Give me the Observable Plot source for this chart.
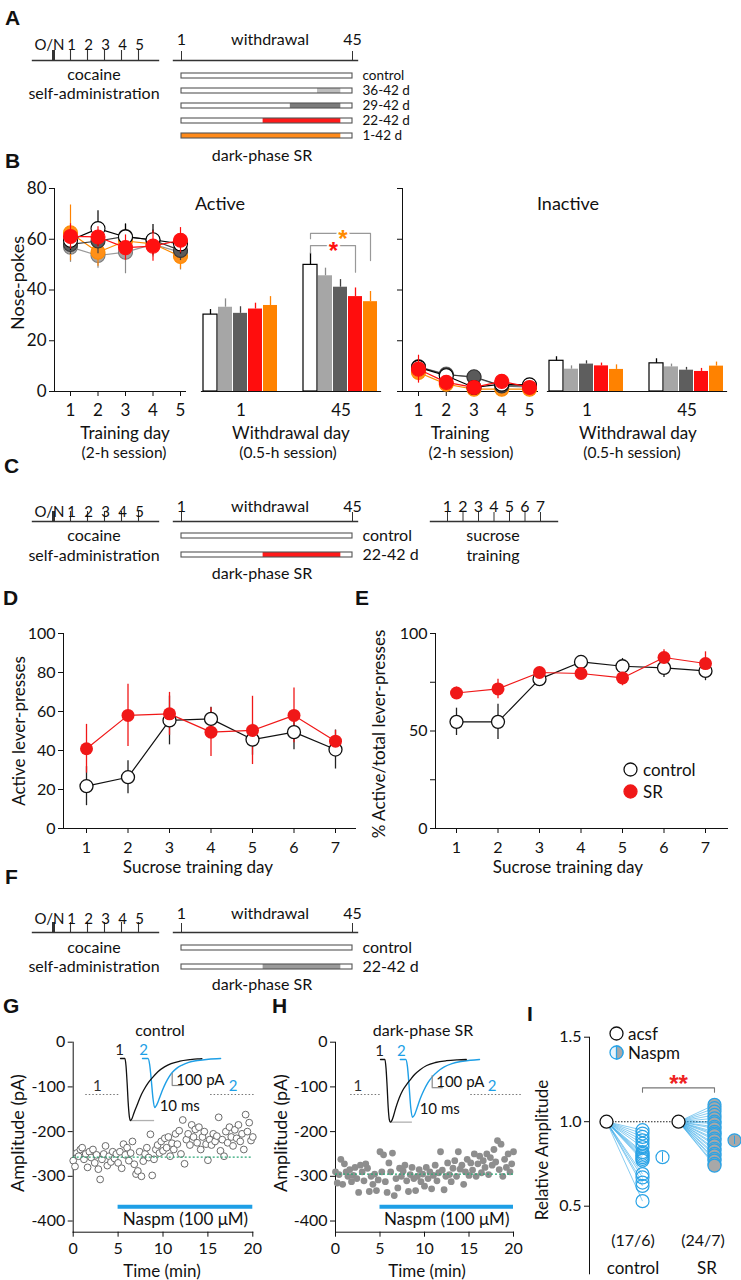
<!DOCTYPE html>
<html><head><meta charset="utf-8">
<script src="https://cdn.jsdelivr.net/npm/d3@7"></script>
<script src="https://cdn.jsdelivr.net/npm/@observablehq/plot@0.6"></script>
<style>
html,body{margin:0;padding:0;background:#fff;}
#root{position:relative;width:741px;height:1280px;overflow:hidden;background:#fff;}
#root svg{overflow:visible;}
</style></head>
<body><div id="root"></div>
<script>
// ---------------- DATA ----------------
// Panel A / C / F timelines
const cocaineTicks = ["O/N","1","2","3","4","5"];
const withdrawalTicks = [1, 45];
const srEndDay = 42;
const groupsA = ["control","36-42 d","29-42 d","22-42 d","1-42 d"];
const srStartA = [null, 36, 29, 22, 1];
const srColorA = ["#ffffff","#bdbdbd","#7b7b7b","#ff1a1a","#ff8a1a"];
const groupsC = ["control","22-42 d"];
const srStartC = [null, 22];
const srColorC = ["#ffffff","#ff1a1a"];
const srColorF = ["#ffffff","#9a9a9a"];
const sucroseTicks = [1,2,3,4,5,6,7];

// Panel B
const bGroups = ["control","36-42 d","29-42 d","22-42 d","1-42 d"];
const trainDays = [1,2,3,4,5];
const wdDays = ["1","45"];
const activeTrainMean = [
  [59.6,64.2,60.9,59.8,58.2],
  [56.9,53.6,54.9,58.0,54.9],
  [58.0,59.3,61.1,59.6,55.6],
  [61.1,60.9,56.7,57.3,59.6],
  [62.5,54.9,59.3,58.2,53.2]];
const activeTrainSem = [
  [4,7,5,6,4],[6,5,8.5,5,7],[4,5,5,4,4],[5,4,5,6,5],[11,5.5,5,4,5]];
const activeWdMean = [[30.3,49.9],[33.2,45.6],[30.8,41.1],[32.5,37.4],[33.9,35.4]];
const activeWdSem = [[2,4.6],[3.3,3],[2.6,3],[2.3,3.4],[3.5,4]];
const inactiveTrainMean = [
  [9.5,6.2,1.6,2.9,2.6],
  [9.7,6.9,5.5,2.2,1.6],
  [9.7,6.6,5.8,2.2,2.2],
  [8.8,3.6,1.6,4.0,1.6],
  [7.5,2.9,0.9,0.9,0.9]];
const inactiveTrainSem = [
  [3,1.5,1,1,1],[3,1.2,1.5,1,1],[3,1.2,2,1,1],[5.5,1.5,1,1.5,1],[3.5,1,0.8,0.8,0.8]];
const inactiveWdMean = [[12.1,11.1],[8.8,9.7],[10.8,8.4],[10.1,7.9],[8.7,10.0]];
const inactiveWdSem = [[1.6,1.8],[1.3,1.1],[1.3,1.1],[1.1,1.2],[1.8,1.6]];
const sigBrackets = [
  {to:"22-42 d", level:57.5, legL:54.6, legR:47.0, color:"#ff1010"},
  {to:"1-42 d", level:62.3, legL:60.2, legR:51.6, color:"#ff8a00"}];

// Panels D / E
const sucroseDays = [1,2,3,4,5,6,7];
const dControlMean = [21.7,26.3,55.4,56.2,45.6,49.4,40.5];
const dControlSem = [10,8.5,12.5,6,8,9,10];
const dSRMean = [40.9,58.0,58.8,49.4,50.3,58.0,44.8];
const dSRSem = [12.5,16,11,12.5,17.5,14,5.5];
const eControlMean = [54.7,54.7,76.6,85.4,83.2,82.4,80.8];
const eControlSem = [7,9,2,3,4,5,5];
const eSRMean = [69.5,71.6,80.0,79.5,77.2,87.7,84.6];
const eSRSem = [3,5,2,2,4,4,6];

// Panels G / H  (time in min, amplitude in pA)
const gPoints = [[0.0,-265],[0.2,-278],[0.4,-248],[0.6,-255],[0.8,-240],[1.0,-236],[1.2,-262],[1.4,-250],[1.6,-280],[1.8,-245],
[2.0,-258],[2.2,-240],[2.4,-270],[2.6,-252],[2.8,-284],[3.0,-307],[3.2,-262],[3.4,-250],[3.6,-232],[3.8,-276],
[4.0,-255],[4.2,-268],[4.4,-245],[4.6,-260],[4.8,-250],[5.0,-270],[5.2,-245],[5.4,-282],[5.6,-228],[5.8,-252],
[6.0,-236],[6.2,-265],[6.4,-248],[6.6,-222],[6.8,-273],[7.0,-295],[7.2,-288],[7.4,-245],[7.6,-300],[7.8,-266],
[8.0,-250],[8.2,-236],[8.4,-258],[8.6,-206],[8.8,-298],[9.0,-262],[9.2,-240],[9.4,-230],[9.6,-248],[9.8,-222],
[10.0,-243],[10.2,-215],[10.4,-236],[10.6,-212],[10.8,-255],[11.0,-226],[11.2,-240],[11.4,-205],[11.6,-228],[11.8,-198],
[12.0,-250],[12.2,-174],[12.4,-272],[12.6,-218],[12.8,-205],[13.0,-230],[13.2,-185],[13.4,-212],[13.6,-195],[13.8,-225],
[14.0,-190],[14.2,-240],[14.4,-212],[14.6,-200],[14.8,-228],[15.0,-264],[15.2,-218],[15.4,-230],[15.6,-205],[15.8,-222],
[16.0,-210],[16.2,-168],[16.4,-243],[16.6,-218],[16.8,-255],[17.0,-200],[17.2,-225],[17.4,-190],[17.6,-212],[17.8,-232],
[18.0,-196],[18.2,-215],[18.4,-185],[18.6,-222],[18.8,-205],[19.0,-240],[19.2,-162],[19.4,-200],[19.6,-180],[19.8,-220],[20.0,-212]];
const hPoints = [[0.0,-290],[0.2,-315],[0.4,-296],[0.6,-262],[0.8,-318],[1.0,-272],[1.2,-290],[1.4,-300],[1.6,-285],[1.8,-312],
[2.0,-298],[2.2,-280],[2.4,-305],[2.6,-336],[2.8,-275],[3.0,-290],[3.2,-310],[3.4,-272],[3.6,-282],[3.8,-334],
[4.0,-300],[4.2,-318],[4.4,-295],[4.6,-332],[4.8,-308],[5.0,-245],[5.2,-290],[5.4,-252],[5.6,-312],[5.8,-336],
[6.0,-270],[6.2,-290],[6.4,-248],[6.6,-343],[6.8,-305],[7.0,-326],[7.2,-282],[7.4,-300],[7.6,-288],[7.8,-275],
[8.0,-310],[8.2,-334],[8.4,-296],[8.6,-280],[8.8,-305],[9.0,-332],[9.2,-300],[9.4,-285],[9.6,-312],[9.8,-295],
[10.0,-322],[10.2,-280],[10.4,-305],[10.6,-290],[10.8,-328],[11.0,-298],[11.2,-275],[11.4,-310],[11.6,-292],[11.8,-245],
[12.0,-286],[12.2,-330],[12.4,-300],[12.6,-270],[12.8,-296],[13.0,-312],[13.2,-282],[13.4,-265],[13.6,-300],[13.8,-245],
[14.0,-284],[14.2,-275],[14.4,-318],[14.6,-290],[14.8,-262],[15.0,-298],[15.2,-270],[15.4,-286],[15.6,-250],[15.8,-300],
[16.0,-272],[16.2,-255],[16.4,-292],[16.6,-265],[16.8,-280],[17.0,-250],[17.2,-296],[17.4,-258],[17.6,-275],[17.8,-240],
[18.0,-268],[18.2,-220],[18.4,-285],[18.6,-228],[18.8,-300],[19.0,-262],[19.2,-280],[19.4,-250],[19.6,-290],[19.8,-272],[20.0,-245]];
const gBaseline = -257;
const hBaseline = -295;
const naspmBar = [{start:5, end:20, level:-368}];
const gSamples = [{label:"1", t1:1.4, t2:5.2, tl:2.7, level:-117, color:"#333"},{label:"2", t1:15.3, t2:20.3, tl:17.8, level:-117, color:"#1e9fe6"}];
const hSamples = [{label:"1", t1:1.7, t2:5.1, tl:2.5, level:-117, color:"#333"},{label:"2", t1:15.2, t2:20.9, tl:17.6, level:-117, color:"#1e9fe6"}];
// Insets: EPSC traces (ms, pA)
const gTrace1 = [[0,0],[4,0],[5,-60],[6,-200],[7,-370],[8,-480],[9,-517],[10.5,-500],[12,-460],[15,-390],[18,-320],[21,-265],[25,-205],[29,-160],[34,-110],[40,-70],[46,-42],[54,-22],[63,-10],[70,-3],[74,-1]];
const gTrace2 = [[20,0],[25,0],[26.5,-50],[28,-180],[29.5,-330],[31,-408],[33,-385],[35,-340],[38,-267],[41,-205],[44,-155],[47,-117],[51,-82],[56,-55],[62,-32],[70,-17],[80,-6],[91,0]];
const hTrace1 = [[0,0],[4,0],[5,-70],[6,-220],[7,-400],[8,-500],[9,-522],[10.5,-505],[12,-465],[14,-400],[17,-320],[20,-260],[24,-205],[27,-170],[31,-125],[36,-85],[42,-50],[50,-25],[60,-10],[70,-3],[78,0]];
const hTrace2 = [[18,0],[23,0],[24.5,-60],[26,-220],[27.5,-400],[29,-481],[31,-460],[33,-410],[36,-330],[39,-265],[43,-195],[47,-145],[52,-100],[58,-62],[65,-35],[73,-17],[82,-6],[90,0]];
const gPeak = [{t1:9, t2:31, amp:-517}];
const hPeak = [{t1:9, t2:29, amp:-522}];
const gScaleBar = [{t:47, pA:-225, dt:10, dI:100}];
const hScaleBar = [{t:47, pA:-235, dt:10, dI:100}];

// Panel I
const iSlots = ["control acsf","control Naspm","SR acsf","SR Naspm"];
const acsfLevel = 1.0;
const naspmControl = [0.95,0.93,0.91,0.89,0.87,0.85,0.82,0.81,0.80,0.79,0.78,0.77,0.69,0.67,0.64,0.62,0.53];
const naspmSR = [1.10,1.08,1.06,1.04,1.02,1.00,0.99,0.97,0.96,0.94,0.93,0.92,0.90,0.89,0.87,0.86,0.84,0.83,0.81,0.80,0.78,0.77,0.75,0.74];
const iMeans = [{slot:"control Naspm", mean:0.79, sem:0.03, fill:"#ffffff"},{slot:"SR Naspm", mean:0.89, sem:0.025, fill:"#a8a8a8"}];
const iBracket = {level:1.2, leg:1.175};

// ---------------- HELPERS ----------------
const FONT = "Lato, 'Open Sans', sans-serif";
const INK = "#111";
const BLUE = "#2aa3e6";
const root = document.getElementById("root");
const baseStyle = {fontFamily: FONT, fontSize: "16px", color: INK, background: "transparent", overflow: "visible"};

function place(node, left, top) {
  node.style.position = "absolute";
  node.style.left = left + "px";
  node.style.top = top + "px";
  root.appendChild(node);
  return node;
}
function txt(s, x, y, o = {}) {
  const d = document.createElement("div");
  d.textContent = s;
  d.style.cssText = `position:absolute;left:${x}px;top:${y}px;white-space:nowrap;line-height:1;font-family:${o.family||FONT};font-size:${o.size||16}px;font-weight:${o.weight||"normal"};color:${o.color||INK};`;
  const ax = o.anchor === "start" ? "0" : o.anchor === "end" ? "-100%" : "-50%";
  d.style.transform = `translate(${ax},-50%)` + (o.rotate ? ` rotate(${o.rotate}deg)` : "");
  root.appendChild(d);
}
function letter(s, x, y) { txt(s, x, y, {anchor:"start", size:21, weight:"bold", family:"'Liberation Sans', Arial, sans-serif", color:"#111"}); }
function icon(x, y, r, fill, stroke, halfFill) {
  const ns = "http://www.w3.org/2000/svg";
  const s = document.createElementNS(ns, "svg");
  const w = 2 * r + 4;
  s.setAttribute("width", w); s.setAttribute("height", w);
  const c = document.createElementNS(ns, "circle");
  c.setAttribute("cx", w/2); c.setAttribute("cy", w/2); c.setAttribute("r", r);
  c.setAttribute("fill", fill); c.setAttribute("stroke", stroke); c.setAttribute("stroke-width", 1.3);
  s.appendChild(c);
  if (halfFill) {
    const p = document.createElementNS(ns, "path");
    p.setAttribute("d", `M${w/2},${w/2 - r} A${r},${r} 0 0 1 ${w/2},${w/2 + r} Z`);
    p.setAttribute("fill", halfFill); p.setAttribute("stroke", stroke); p.setAttribute("stroke-width", 1.3);
    s.appendChild(p);
  }
  place(s, x - w/2, y - w/2);
}
function safe(name, fn) {
  try { fn(); } catch (e) { console.error(name, e); txt(name + ": " + e.message, 5, 1270, {anchor:"start", size:10, color:"red"}); }
}

// ---------------- TIMELINES (A, C, F) ----------------
function cocainePlot(lineY, labelOffset) {
  const p = Plot.plot({
    width: 170, height: 40, marginLeft: 32, marginRight: 12, marginTop: 30, marginBottom: 0,
    style: baseStyle,
    x: {type: "point", domain: cocaineTicks, padding: 0, insetLeft: 20, insetRight: 20, axis: null},
    marks: [
      Plot.tickX(cocaineTicks, {x: d => d, stroke: "#333", strokeWidth: d => d === "O/N" ? 3 : 1.1}),
      Plot.text(cocaineTicks.slice(0, 1), {x: d => d, frameAnchor: "top", dy: -(labelOffset - 10), dx: -4, fontSize: 15, fill: INK}),
      Plot.text(cocaineTicks.slice(1), {x: d => d, frameAnchor: "top", dy: -(labelOffset - 10), dx: 1, fontSize: 15, fill: INK}),
      Plot.frame({anchor: "bottom", stroke: "#333", strokeWidth: 1.4})
    ]
  });
  place(p, 0, lineY - 40);
}
function withdrawalPlot(lineY, labelOffset, groups, srStart, srColor, firstOffset, step, rowFont) {
  const rows = groups.map((g, i) => ({name: g, start: withdrawalTicks[0], end: withdrawalTicks[1], srStart: srStart[i], srEnd: srEndDay, color: srColor[i]}));
  const n = groups.length, top = 40;
  const y0 = top + firstOffset - step / 2;
  const h = Math.round(y0 + n * step + 4);
  const pad = 1 - 5 / step;
  const p = Plot.plot({
    width: 290, height: h, marginLeft: 23, marginRight: 83, marginTop: top, marginBottom: 0,
    style: baseStyle,
    x: {domain: withdrawalTicks, insetLeft: 8, insetRight: 5},
    y: {type: "band", domain: groups, range: [y0, y0 + n * step], paddingInner: pad, paddingOuter: pad / 2, axis: null},
    color: {type: "identity"},
    marks: [
      Plot.axisX({anchor: "top", ticks: withdrawalTicks, tickFormat: d => String(d), tickSize: 10, tickPadding: Math.max(0, labelOffset - 15.8), label: null, fontSize: 16, stroke: "#333"}),
      Plot.frame({anchor: "top", stroke: "#333", strokeWidth: 1.4}),
      Plot.barX(rows, {x1: "start", x2: "end", y: "name", fill: "white"}),
      Plot.barX(rows.filter(r => r.srStart != null), {x1: "srStart", x2: "srEnd", y: "name", fill: "color"}),
      Plot.barX(rows, {x1: "start", x2: "end", y: "name", fill: "none", stroke: "#555", strokeWidth: 1.1}),
      Plot.text(rows, {y: "name", text: "name", frameAnchor: "right", textAnchor: "start", dx: 5, fontSize: rowFont, fill: INK})
    ]
  });
  place(p, 150, lineY - top);
}
function sucroseTimeline(lineY, labelOffset) {
  const p = Plot.plot({
    width: 160, height: 45, marginLeft: 15, marginRight: 18, marginTop: 40, marginBottom: 5,
    style: baseStyle,
    x: {domain: [1, 7], insetLeft: 17, insetRight: 17},
    marks: [
      Plot.axisX({anchor: "top", ticks: sucroseTicks, tickFormat: d => String(d), tickSize: 10, tickPadding: Math.max(0, labelOffset - 15.8), label: null, fontSize: 16, stroke: "#333"}),
      Plot.frame({anchor: "top", stroke: "#333", strokeWidth: 1.4})
    ]
  });
  place(p, 415, lineY - 40);
}

safe("A", () => {
  letter("A", 5, 17);
  cocainePlot(60, 21);
  withdrawalPlot(60, 21, groupsA, srStartA, srColorA, 13.5, 15.75, 13.5);
  txt("cocaine", 94, 74, {size:16}); txt("self-administration", 94, 93, {size:16});
  txt("withdrawal", 270, 39, {size:16});
  txt("dark-phase SR", 262, 155, {size:16});
});
safe("C", () => {
  letter("C", 4, 465);
  cocainePlot(521, 15.5);
  withdrawalPlot(521, 15.5, groupsC, srStartC, srColorC, 14, 19, 16);
  sucroseTimeline(521, 15.5);
  txt("cocaine", 94, 535, {size:16}); txt("self-administration", 94, 555, {size:16});
  txt("withdrawal", 270, 505.5, {size:16});
  txt("dark-phase SR", 262, 573, {size:16});
  txt("sucrose", 493, 535, {size:16}); txt("training", 493, 555, {size:16});
});
safe("F", () => {
  letter("F", 5, 876);
  cocainePlot(931.5, 19);
  withdrawalPlot(931.5, 19, groupsC, srStartC, srColorF, 15, 19, 16);
  txt("cocaine", 94, 946.5, {size:16}); txt("self-administration", 94, 966, {size:16});
  txt("withdrawal", 270, 912.5, {size:16});
  txt("dark-phase SR", 262, 984, {size:16});
});

// ---------------- PANEL B ----------------
const bLine = ["#000000","#9a9a9a","#3c3c3c","#ff1010","#ff8a00"];
const bDotFill = ["#ffffff","#a6a6a6","#5a5a5a","#ff1010","#ff9019"];
const bDotStroke = ["#000000","#7a7a7a","#333333","#ff1010","#ff8a00"];
const bBarFill = ["#ffffff","#a6a6a6","#5e5e5e","#ff0d0d","#ff8200"];
const bErr = ["#000000","#8a8a8a","#404040","#ff0d0d","#ff8200"];
const drawOrder = [1, 4, 2, 0, 3];

function trainingPlot(means, sems, left, width, marginLeft, marginRight, insetLeft, insetRight, showLabels) {
  const marks = [];
  for (const gi of drawOrder) {
    const data = trainDays.map((d, di) => ({day: d, mean: means[gi][di], sem: sems[gi][di]}));
    marks.push(Plot.ruleX(data, {x: "day", y1: d => d.mean - d.sem, y2: d => d.mean + d.sem, stroke: bErr[gi], strokeWidth: 1.2}));
    marks.push(Plot.line(data, {x: "day", y: "mean", stroke: bLine[gi], strokeWidth: 1.2}));
    marks.push(Plot.dot(data, {x: "day", y: "mean", r: 7, fill: bDotFill[gi], stroke: bDotStroke[gi], strokeWidth: 1.1}));
  }
  const p = Plot.plot({
    width, height: 260, marginLeft, marginRight, marginTop: 18, marginBottom: 39,
    style: {...baseStyle, fontSize: "17px"},
    x: {domain: [1, 5], insetLeft, insetRight, ticks: trainDays, tickFormat: d => String(d), tickSize: 5, tickPadding: 7, label: null, line: true},
    y: {domain: [0, 80], ticks: [0, 20, 40, 60, 80], tickFormat: showLabels ? (d => String(d)) : (() => ""), tickSize: 5, tickPadding: 3, label: null, line: true},
    marks
  });
  place(p, left, 170);
}
function withdrawalBars(means, sems, left, width, marginLeft, marginRight, withSig) {
  const data = [];
  wdDays.forEach((day, di) => bGroups.forEach((g, gi) => data.push({day, group: g, gi, mean: means[gi][di], sem: sems[gi][di]})));
  const marks = [
    Plot.barY(data, {fx: "day", x: "group", y: "mean", fill: d => bBarFill[d.gi]}),
    Plot.barY(data.filter(d => d.gi === 0), {fx: "day", x: "group", y: "mean", fill: "none", stroke: "#000", strokeWidth: 1.2}),
    Plot.ruleX(data, {fx: "day", x: "group", y1: "mean", y2: d => d.mean + d.sem, stroke: d => bErr[d.gi], strokeWidth: 1.3}),
    Plot.frame({anchor: "bottom", facet: "super", stroke: INK, strokeWidth: 1.2})
  ];
  if (withSig) {
    const pts = [];
    for (const b of sigBrackets) {
      pts.push({day: "45", id: b.to, g: "control", v: b.legL}, {day: "45", id: b.to, g: "control", v: b.level},
               {day: "45", id: b.to, g: b.to, v: b.level}, {day: "45", id: b.to, g: b.to, v: b.legR});
    }
    marks.push(Plot.line(pts, {fx: "day", x: "g", y: "v", z: "id", stroke: "#999", strokeWidth: 1.2}));
    marks.push(Plot.text([sigBrackets[0]], {fx: () => "45", x: () => "36-42 d", y: "level", text: () => "*", dx: 8, dy: 6, fill: "color", stroke: "white", strokeWidth: 4, fontSize: 24, fontWeight: "bold", fontFamily: "'Liberation Sans', Arial"}));
    marks.push(Plot.text([sigBrackets[1]], {fx: () => "45", x: () => "29-42 d", y: "level", text: () => "*", dx: 2.5, dy: 6, fill: "color", stroke: "white", strokeWidth: 4, fontSize: 24, fontWeight: "bold", fontFamily: "'Liberation Sans', Arial"}));
  }
  const p = Plot.plot({
    width, height: 260, marginLeft, marginRight, marginTop: 18, marginBottom: 39,
    style: {...baseStyle, fontSize: "17px"},
    fx: {domain: wdDays, paddingInner: 0.21, paddingOuter: 0, axis: "bottom", tickSize: 0, tickPadding: 12, label: null},
    x: {domain: bGroups, paddingInner: 0.06, paddingOuter: 0, axis: null},
    y: {domain: [0, 80], axis: null},
    color: {type: "identity"},
    marks
  });
  place(p, left, 170);
}

safe("B", () => {
  letter("B", 5, 160);
  trainingPlot(activeTrainMean, activeTrainSem, 0, 195, 54, 10, 16, 5, true);
  withdrawalBars(activeWdMean, activeWdSem, 190, 200, 11, 10, true);
  trainingPlot(inactiveTrainMean, inactiveTrainSem, 390, 155, 12, 8, 16, 8, false);
  withdrawalBars(inactiveWdMean, inactiveWdSem, 540, 201, 7, 15, false);
  txt("Active", 220, 203, {size:18});
  txt("Inactive", 568, 203, {size:18});
  txt("Nose-pokes", 17, 283, {size:18, rotate:-90});
  txt("Training day", 125, 432, {size:17}); txt("(2-h session)", 124, 453, {size:15.5});
  txt("Withdrawal day", 291, 432, {size:17}); txt("(0.5-h session)", 288, 453, {size:15.5});
  txt("Training", 460, 432, {size:17}); txt("(2-h session)", 471, 453, {size:15.5});
  txt("Withdrawal day", 638, 432, {size:17}); txt("(0.5-h session)", 632, 453, {size:15.5});
});

// ---------------- PANELS D, E ----------------
function sucrosePlot(cm, cs, sm, ss, left, width, marginLeft, marginRight, insetLeft, insetRight, yTicks, yFmt) {
  const ctrl = sucroseDays.map((d, i) => ({day: d, m: cm[i], s: cs[i]}));
  const sr = sucroseDays.map((d, i) => ({day: d, m: sm[i], s: ss[i]}));
  const p = Plot.plot({
    width, height: 280, marginLeft, marginRight, marginTop: 33, marginBottom: 52,
    style: baseStyle,
    x: {domain: [1, 7], insetLeft, insetRight, ticks: sucroseDays, tickFormat: d => String(d), tickSize: 5, tickPadding: 8, label: null, line: true},
    y: {domain: [0, 100], ticks: yTicks, tickFormat: yFmt, tickSize: 5, tickPadding: 3, label: null, line: true},
    marks: [
      Plot.ruleX(ctrl, {x: "day", y1: d => d.m - d.s, y2: d => d.m + d.s, stroke: "#222", strokeWidth: 1.3}),
      Plot.ruleX(sr, {x: "day", y1: d => d.m - d.s, y2: d => d.m + d.s, stroke: "#f01818", strokeWidth: 1.3}),
      Plot.line(ctrl, {x: "day", y: "m", stroke: "#111", strokeWidth: 1.2}),
      Plot.line(sr, {x: "day", y: "m", stroke: "#f01818", strokeWidth: 1.2}),
      Plot.dot(ctrl, {x: "day", y: "m", r: 6.5, fill: "white", stroke: "#111", strokeWidth: 1.3}),
      Plot.dot(sr, {x: "day", y: "m", r: 6.5, fill: "#f01818"})
    ]
  });
  place(p, left, 600);
}
safe("D", () => {
  letter("D", 3, 597);
  sucrosePlot(dControlMean, dControlSem, dSRMean, dSRSem, 0, 370, 63, 15, 23, 20, [0,20,40,60,80,100], d => String(d));
  txt("Active lever-presses", 18, 731, {size:17, rotate:-90});
  txt("Sucrose training day", 198, 866, {size:17});
});
safe("E", () => {
  letter("E", 355, 597);
  sucrosePlot(eControlMean, eControlSem, eSRMean, eSRSem, 370, 371, 65, 14, 21, 22, [0,25,50,75,100], d => d % 50 === 0 ? String(d) : "");
  txt("% Active/total lever-presses", 378, 734, {size:17, rotate:-90});
  txt("Sucrose training day", 568, 866, {size:17});
  icon(630, 769, 6.5, "white", "#111");
  txt("control", 643, 769, {anchor:"start", size:17});
  icon(630, 791, 6.5, "#f01818", "#f01818");
  txt("SR", 643, 791, {anchor:"start", size:17});
});

// ---------------- PANELS G, H ----------------
function ampPlot(pts, hollow, baseline, samples, left, marginLeft, marginRight) {
  const p = Plot.plot({
    width: 270, height: 280, marginLeft, marginRight, marginTop: 41.7, marginBottom: 48.3,
    style: baseStyle,
    color: {type: "identity"},
    x: {domain: [0, 20], ticks: [0, 5, 10, 15, 20], tickFormat: d => String(d), tickSize: 5, tickPadding: 5, label: null, line: true},
    y: {domain: [-425, 0], ticks: [0, -100, -200, -300, -400], tickFormat: d => String(d), tickSize: 5, tickPadding: 3, label: null, line: true},
    marks: [
      Plot.ruleY(samples, {x1: "t1", x2: "t2", y: "level", stroke: "#777", strokeWidth: 1.1, strokeDasharray: "1.5,2"}),
      Plot.text(samples, {x: "tl", y: "level", text: "label", dy: -8, fill: "color", fontSize: 15}),
      Plot.dot(pts, {x: d => d[0], y: d => d[1], r: 3.4, fill: hollow ? "white" : "#8e8e8e", stroke: hollow ? "#6a6a6a" : "none", strokeWidth: 1}),
      Plot.ruleY([baseline], {stroke: "#2aa775", strokeWidth: 1.4, strokeDasharray: "2,2"}),
      Plot.ruleY(naspmBar, {x1: "start", x2: "end", y: "level", stroke: "#1e9fe6", strokeWidth: 4}),
      Plot.text(naspmBar, {x: d => (d.start + d.end) / 2, y: "level", text: () => "Naspm (100 μM)", dy: 13, fontSize: 17, fill: INK})
    ]
  });
  place(p, left, 1000);
}
function insetPlot(t1, t2, peak, bar, left, top) {
  const p = Plot.plot({
    width: 120, height: 100, marginLeft: 0, marginRight: 0, marginTop: 0, marginBottom: 0,
    style: baseStyle,
    x: {domain: [0, 100], range: [0, 110], axis: null},
    y: {domain: [0, -600], range: [18, 90], axis: null},
    marks: [
      Plot.ruleY(peak, {x1: "t1", x2: "t2", y: "amp", stroke: "#b0b0b0", strokeWidth: 1.3}),
      Plot.line(t2, {x: d => d[0], y: d => d[1], stroke: "#1e9fe6", strokeWidth: 1.4, curve: "monotone-x"}),
      Plot.line(t1, {x: d => d[0], y: d => d[1], stroke: "#111", strokeWidth: 1.3, curve: "monotone-x"}),
      Plot.text([t1[0]], {x: d => d[0], y: d => d[1], text: () => "1", dy: -8, dx: -1, fontSize: 15, fill: "#222"}),
      Plot.text([t2[0]], {x: d => d[0], y: d => d[1], text: () => "2", dy: -8, dx: 1, fontSize: 15, fill: "#1e9fe6"}),
      Plot.ruleX(bar, {x: "t", y1: "pA", y2: d => d.pA + d.dI, stroke: "#888", strokeWidth: 1.2}),
      Plot.ruleY(bar, {y: "pA", x1: "t", x2: d => d.t + d.dt, stroke: "#888", strokeWidth: 1.2}),
      Plot.text(bar, {x: "t", y: d => d.pA + d.dI * 0.45, text: () => "100 pA", textAnchor: "start", dx: 4, fontSize: 15, fill: INK}),
      Plot.text(bar, {x: d => d.t + d.dt / 2, y: "pA", text: () => "10 ms", dy: 21, dx: 2, fontSize: 15, fill: INK})
    ]
  });
  place(p, left, top);
}
safe("G", () => {
  letter("G", 3, 1005);
  ampPlot(gPoints, true, gBaseline, gSamples, 0, 72.7, 17.7);
  insetPlot(gTrace1, gTrace2, gPeak, gScaleBar, 120, 1040);
  txt("control", 160, 1030, {size:16});
  txt("Amplitude (pA)", 17, 1133, {size:18, rotate:-90});
  txt("Time (min)", 162, 1270, {size:17});
});
safe("H", () => {
  letter("H", 272, 1005);
  ampPlot(hPoints, false, hBaseline, hSamples, 262, 73, 19);
  insetPlot(hTrace1, hTrace2, hPeak, hScaleBar, 380, 1041);
  txt("dark-phase SR", 423, 1030, {size:16});
  txt("Amplitude (pA)", 280, 1133, {size:18, rotate:-90});
  txt("Time (min)", 427, 1270, {size:17});
});

// ---------------- PANEL I ----------------
safe("I", () => {
  txt("I", 527, 1013, {anchor:"start", size:21, weight:"bold", family:"'Liberation Sans', Arial, sans-serif", color:"#111"});
  const brk = [
    {x: iSlots[1], v: iBracket.leg}, {x: iSlots[1], v: iBracket.level},
    {x: iSlots[3], v: iBracket.level}, {x: iSlots[3], v: iBracket.leg}];
  const p = Plot.plot({
    width: 231, height: 290, marginLeft: 79, marginRight: 0, marginTop: 46.7, marginBottom: 6.7,
    style: baseStyle,
    x: {type: "point", domain: iSlots, range: [95, 205], padding: 0, axis: null},
    y: {domain: [0.1, 1.5], ticks: [0.5, 1.0, 1.5], tickFormat: d3.format(".1f"), tickSize: 5, tickPadding: 3, label: null, line: true},
    marks: [
      Plot.ruleY([acsfLevel], {x1: () => iSlots[0], x2: () => iSlots[3], stroke: "#222", strokeWidth: 1.1, strokeDasharray: "1.5,1.5"}),
      Plot.link(naspmControl, {x1: () => iSlots[0], y1: () => acsfLevel, x2: () => iSlots[1], y2: d => d, stroke: BLUE, strokeWidth: 0.8, strokeOpacity: 0.7}),
      Plot.link(naspmSR, {x1: () => iSlots[2], y1: () => acsfLevel, x2: () => iSlots[3], y2: d => d, stroke: BLUE, strokeWidth: 0.8, strokeOpacity: 0.7}),
      Plot.dot([iSlots[0], iSlots[2]], {x: d => d, y: () => acsfLevel, r: 6.5, fill: "white", stroke: "#111", strokeWidth: 1.3}),
      Plot.dot(naspmSR, {x: () => iSlots[3], y: d => d, r: 6.5, fill: "#a8a8a8", stroke: BLUE, strokeWidth: 1.2}),
      Plot.dot(naspmControl, {x: () => iSlots[1], y: d => d, r: 6.5, fill: "none", stroke: BLUE, strokeWidth: 1.2}),
      Plot.dot(iMeans, {x: "slot", y: "mean", dx: 20, r: 6.5, fill: d => d.fill, stroke: BLUE, strokeWidth: 1.2}),
      Plot.ruleX(iMeans, {x: "slot", y1: d => d.mean - d.sem, y2: d => d.mean + d.sem, dx: 20, stroke: BLUE, strokeWidth: 1}),
      Plot.line(brk, {x: "x", y: "v", stroke: "#777", strokeWidth: 1.1}),
      Plot.text(["**"], {x: () => iSlots[2], y: () => iBracket.level, text: d => d, dy: -4, fill: "#ee2222", fontSize: 24, fontWeight: "bold", fontFamily: "'Liberation Sans', Arial"})
    ]
  });
  place(p, 510, 990);
  txt("Relative Amplitude", 541, 1150, {size:17, rotate:-90});
  txt("(17/6)", 633, 1240, {size:16}); txt("(24/7)", 703, 1240, {size:16});
  txt("control", 633, 1267, {size:17}); txt("SR", 707, 1267, {size:17});
  icon(616, 1033, 6.5, "white", "#111");
  txt("acsf", 628, 1033, {anchor:"start", size:17});
  icon(616, 1052, 6.5, "#e9f4fb", BLUE, "#a8a8a8");
  txt("Naspm", 628, 1052, {anchor:"start", size:17});
});
</script>
</body></html>
